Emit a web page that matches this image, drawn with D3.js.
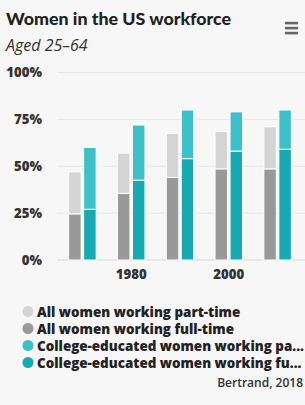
<!DOCTYPE html>
<html><head><meta charset="utf-8">
<script src="https://cdn.jsdelivr.net/npm/d3@7"></script>
<style>
html,body{margin:0;padding:0;background:#f7f7f7;}
svg{display:block;font-family:"Open Sans",Lato,sans-serif;}
</style></head>
<body><svg id="c" width="305" height="405"></svg>
<script>
const categories = ["1970","1980","1990","2000","2010"];
const xTickLabels = ["1980","2000"];
const yTicks = [0,25,50,75,100];
const allFullTime = [24.5,35.5,44,48.5,48.5];
const allPartTime = [22.5,21.5,23.5,20,22.5];
const collegeFullTime = [27,42.5,54,58,59];
const collegePartTime = [33,29.5,26,21,21];
const seriesNames = ["All women working part-time","All women working full-time","College-educated women working part-time","College-educated women working full-time"];
const seriesColors = ["#d4d4d4","#999999","#3cc1c8","#18aab2"];

const svg = d3.select("#c");
svg.append("rect").attr("width",305).attr("height",405).attr("fill","#f7f7f7");

svg.append("text").attr("x",6).attr("y",25).attr("font-size",17.8).attr("font-weight",900)
  .attr("font-family","Lato,sans-serif").attr("fill","#222").text("Women in the US workforce");
svg.append("text").attr("x",6).attr("y",51).attr("font-size",16).attr("font-style","italic")
  .attr("font-family","'Open Sans',sans-serif").attr("fill","#333").text("Aged 25–64");
// menu icon
[23,28,33].forEach(y=>svg.append("rect").attr("x",285).attr("y",y-1.2).attr("width",13).attr("height",2.6).attr("fill","#666"));

const x = d3.scaleBand().domain(categories).range([58,302]);
const y = d3.scaleLinear().domain([0,100]).range([260,72.5]);

const grid = svg.append("g");
yTicks.forEach(t=>{
  grid.append("line").attr("x1",57).attr("x2",305).attr("y1",y(t)).attr("y2",y(t))
    .attr("stroke",t===0?"#d8d8d8":"#e6e6e6").attr("stroke-width",1);
});
const fnt = "'Open Sans',Lato,sans-serif";
const yAxis = d3.axisLeft(y).tickValues(yTicks).tickFormat(d=>d+"%").tickSize(0).tickPadding(0);
const ya = svg.append("g").attr("transform","translate(42,0)").call(yAxis);
ya.select(".domain").remove();
ya.selectAll("text").attr("font-size",13.2).attr("font-weight",800).attr("fill","#333")
  .attr("font-family",fnt);

const xAxis = d3.axisBottom(x).tickValues(xTickLabels).tickSize(0).tickPadding(0);
const xa = svg.append("g").attr("transform","translate(0,270)").call(xAxis);
xa.select(".domain").remove();
xa.selectAll("text").attr("font-size",13.2).attr("font-weight",800).attr("fill","#333")
  .attr("font-family",fnt);

const bw = 12.5, gap = 2.5;
const stacks = [
  {off:-(bw+gap/2), full:allFullTime, part:allPartTime, cFull:seriesColors[1], cPart:seriesColors[0]},
  {off:gap/2, full:collegeFullTime, part:collegePartTime, cFull:seriesColors[3], cPart:seriesColors[2]}
];
stacks.forEach(s=>{
  const g = svg.append("g");
  categories.forEach((c,i)=>{
    const cx = x(c)+x.bandwidth()/2 + s.off;
    const f = s.full[i], p = s.part[i];
    g.append("rect").attr("x",cx).attr("width",bw).attr("y",y(f+p)).attr("height",y(f)-y(f+p))
      .attr("fill",s.cPart).attr("stroke","#ffffff").attr("stroke-width",1);
    g.append("rect").attr("x",cx).attr("width",bw).attr("y",y(f)).attr("height",y(0)-y(f))
      .attr("fill",s.cFull).attr("stroke","#ffffff").attr("stroke-width",1);
  });
});

// legend
const lg = svg.append("g");
seriesNames.forEach((n,i)=>{
  const ly = 312 + i*17;
  lg.append("circle").attr("cx",28).attr("cy",ly-0.5).attr("r",5.5).attr("fill",seriesColors[i]);
  const t = lg.append("text").attr("x",37).attr("y",ly+4.5).attr("font-size",13.4).attr("font-weight",800)
    .attr("font-family",fnt).attr("fill","#222").text(n);
  const maxW = 268;
  if (t.node().getComputedTextLength() > maxW) {
    let s = n;
    while (s.length>0) {
      s = s.slice(0,-1);
      t.text(s.trimEnd()+"...");
      if (t.node().getComputedTextLength() <= maxW) break;
    }
  }
});

svg.append("text").attr("x",303).attr("y",387).attr("text-anchor","end").attr("font-size",12)
  .attr("font-weight",600).attr("font-family",fnt).attr("fill","#333").text("Bertrand, 2018");
</script></body></html>
